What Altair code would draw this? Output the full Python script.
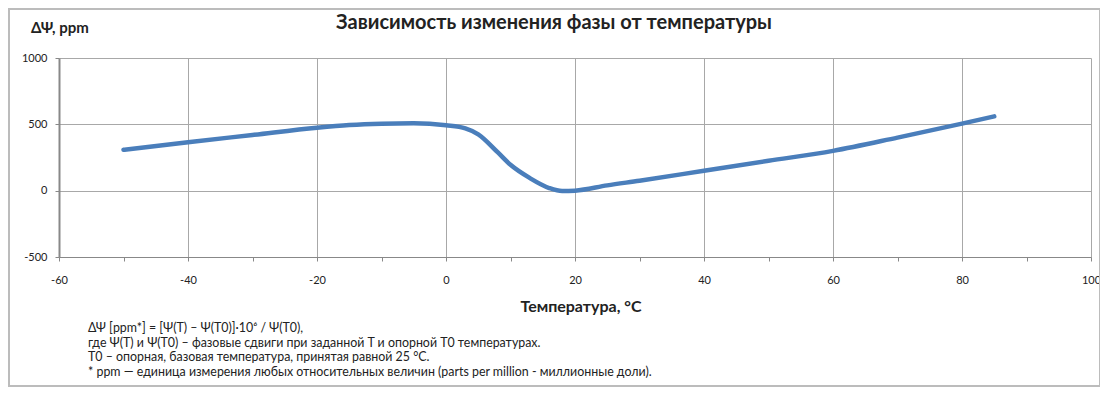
import altair as alt
import pandas as pd

temps = [-50, -40, -30, -20, -15, -10, -5, 0, 3, 5, 8, 10, 13, 16, 18, 20, 25, 30, 40, 50, 60, 70, 80, 85]
dpsi = [308, 365, 420, 475, 495, 505, 508, 493, 470, 425, 290, 195, 95, 20, -3, 0, 40, 75, 150, 225, 300, 400, 505, 560]

x_ticks = [-60, -50, -40, -30, -20, -10, 0, 10, 20, 30, 40, 50, 60, 70, 80, 90, 100]
y_ticks = [-500, 0, 500, 1000]

title_text = "Зависимость изменения фазы от температуры"
y_title = "ΔΨ, ppm"
x_title = "Температура, °C"
notes = [
    "ΔΨ [ppm*] = [Ψ(T) – Ψ(T0)]·10⁶ / Ψ(T0),",
    "где Ψ(T) и Ψ(T0) – фазовые сдвиги при заданной T и опорной T0 температурах.",
    "T0 – опорная, базовая температура, принятая равной 25 °C.",
    "* ppm — единица измерения любых относительных величин (parts per million  - миллионные доли).",
]

df = pd.DataFrame({"t": temps, "d": dpsi})

FONT = "Lato"
W, H = 1032, 199

line = alt.Chart(df).mark_line(
    color="#4a7ebb", strokeWidth=4.5, interpolate="monotone", strokeCap="round"
).encode(
    x=alt.X("t:Q", scale=alt.Scale(domain=[-60, 100], nice=False),
            axis=alt.Axis(values=x_ticks, title=None,
                          labelExpr="datum.value % 20 == 0 ? '' + datum.value : ''",
                          gridOpacity=alt.expr("datum.value % 20 == 0 ? 1 : 0"),
                          tickSize=4, labelPadding=13, labelFontSize=11,
                          labelFont=FONT, labelColor="#222222",
                          domainColor="#888888", tickColor="#888888",
                          gridColor="#a8a8a8", labelFlush=False)),
    y=alt.Y("d:Q", scale=alt.Scale(domain=[-500, 1000], nice=False),
            axis=alt.Axis(values=y_ticks, title=None, tickSize=4, labelPadding=8,
                          labelExpr="'' + datum.value",
                          labelFontSize=11, labelFont=FONT, labelColor="#222222",
                          domainColor="#888888", domainWidth=2, tickColor="#888888",
                          gridColor="#a8a8a8", labelFlush=False)),
)

one = alt.Data(values=[{}])

frame = alt.Chart(one).mark_rect(filled=False, stroke="#bcbcbc", strokeWidth=2).encode(
    x=alt.value(-50), x2=alt.value(W + 9), y=alt.value(-49), y2=alt.value(328)
)

title = alt.Chart(one).mark_text(
    text=title_text, font=FONT, fontSize=20, fontWeight="bold", color="#222222",
    align="center", baseline="middle"
).encode(x=alt.value(495), y=alt.value(-35))

ytitle = alt.Chart(one).mark_text(
    text=y_title, font=FONT, fontSize=15, fontWeight="bold", color="#222222",
    align="left", baseline="middle"
).encode(x=alt.value(-28), y=alt.value(-30))

xtitle = alt.Chart(one).mark_text(
    text=x_title, font=FONT, fontSize=16, fontWeight="bold", color="#222222",
    align="center", baseline="middle"
).encode(x=alt.value(522), y=alt.value(249))

notes_df = pd.DataFrame({"txt": notes, "i": list(range(len(notes)))})
note_layer = alt.Chart(notes_df).mark_text(
    font=FONT, fontSize=12.4, color="#222222", align="left", baseline="middle"
).encode(
    text="txt:N",
    x=alt.value(29),
    y=alt.Y("i:Q", scale=alt.Scale(domain=[0, 3], range=[270, 314]), axis=None),
)

chart = alt.layer(frame, line, title, ytitle, xtitle, note_layer).resolve_scale(
    y="independent"
).properties(
    width=W, height=H,
    autosize=alt.AutoSizeParams(type="none"),
    padding={"left": 51, "top": 50, "right": 9, "bottom": 130},
    background="white",
).configure_view(stroke=None)

chart.save("out.html", embed_options={"renderer": "svg", "actions": False})
